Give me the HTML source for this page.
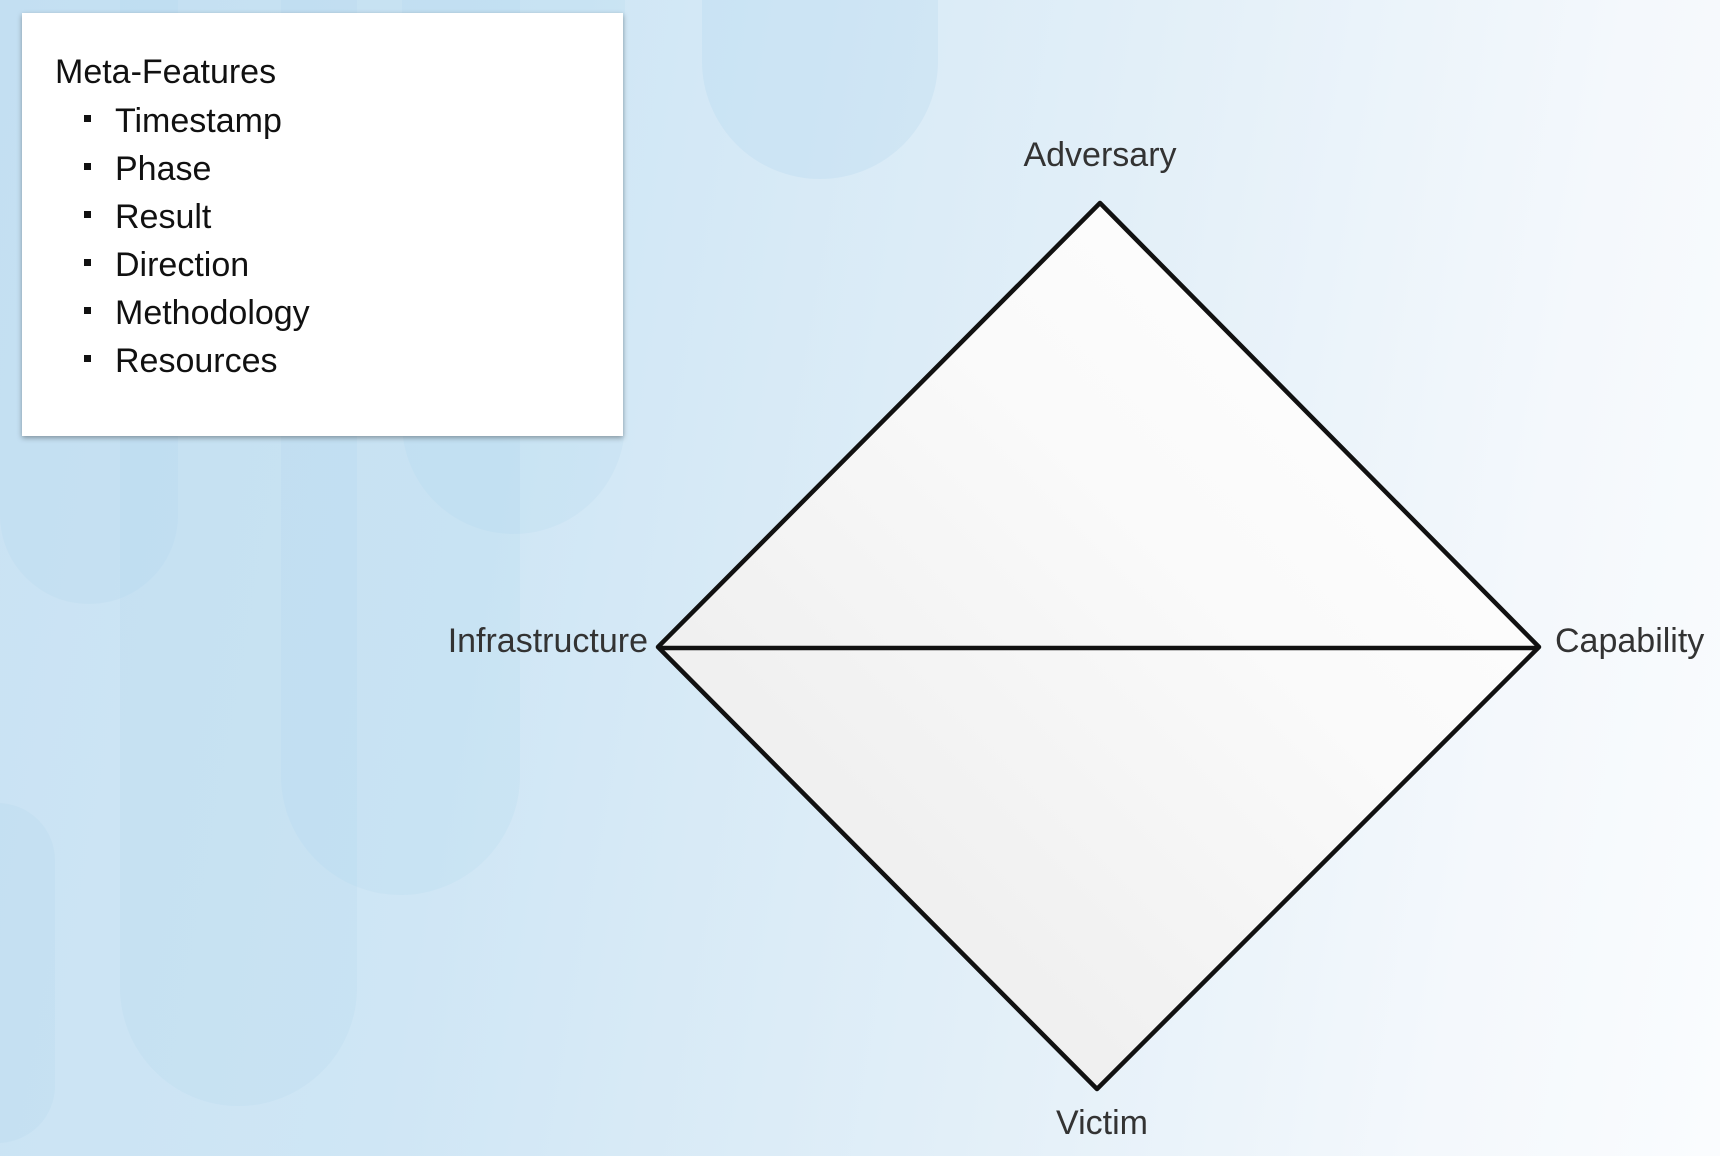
<!DOCTYPE html>
<html><head><meta charset="utf-8"><style>
html,body{margin:0;padding:0;background:#e4f0f8}
body{width:1720px;height:1156px;position:relative;overflow:hidden;font-family:"Liberation Sans",sans-serif}
.bg{position:absolute;left:0;top:0;width:1720px;height:1156px;
background:linear-gradient(100deg,#c9e2f3 0%,#cfe6f5 30%,#e2eff8 60%,#f4f8fc 85%,#fafcfe 100%);overflow:hidden}
.pill{position:absolute;border-radius:0 0 120px 120px;background:rgba(170,210,238,0.16)}
.box{position:absolute;left:22px;top:13px;width:601px;height:423px;background:#fff;box-shadow:0 2px 5px rgba(0,0,0,0.35)}
.t{position:absolute;font-size:34px;color:#111;white-space:nowrap}
.lbl{position:absolute;font-size:34px;color:#333;white-space:nowrap}
.b{position:absolute;width:7px;height:7px;background:#111;left:84px}
</style></head><body>
<div class="bg">
<div class="pill" style="left:0;top:0;width:178px;height:604px"></div>
<div class="pill" style="left:120px;top:0;width:237px;height:1106px"></div>
<div class="pill" style="left:281px;top:0;width:239px;height:895px"></div>
<div class="pill" style="left:402px;top:0;width:223px;height:534px"></div>
<div class="pill" style="left:702px;top:0;width:236px;height:179px;background:rgba(170,210,238,0.22)"></div>
<div style="position:absolute;left:-60px;top:803px;width:115px;height:340px;border-radius:60px;background:rgba(170,210,238,0.16)"></div>
</div>
<div class="box">
<div class="t" style="left:33px;top:40px">Meta-Features</div>
</div>
<div class="b" style="top:115px"></div><div class="t" style="left:115px;top:102px">Timestamp</div>
<div class="b" style="top:163px"></div><div class="t" style="left:115px;top:150px">Phase</div>
<div class="b" style="top:211px"></div><div class="t" style="left:115px;top:198px">Result</div>
<div class="b" style="top:259px"></div><div class="t" style="left:115px;top:246px">Direction</div>
<div class="b" style="top:307px"></div><div class="t" style="left:115px;top:294px">Methodology</div>
<div class="b" style="top:355px"></div><div class="t" style="left:115px;top:342px">Resources</div>
<svg style="position:absolute;left:0;top:0" width="1720" height="1156">
<defs><linearGradient id="g" x1="0" y1="1" x2="1" y2="0">
<stop offset="0" stop-color="#e8e8e8"/><stop offset="0.6" stop-color="#fafafa"/><stop offset="1" stop-color="#ffffff"/></linearGradient></defs>
<polygon points="1100,203 1539,647 1097,1089 658,647" fill="url(#g)" stroke="#111" stroke-width="4.5" stroke-linejoin="round"/>
<line x1="658" y1="648" x2="1539" y2="648" stroke="#111" stroke-width="4.5"/>
</svg>
<div class="lbl" style="left:1100px;top:136px;transform:translateX(-50%)">Adversary</div>
<div class="lbl" style="right:1072px;top:622px">Infrastructure</div>
<div class="lbl" style="left:1555px;top:622px">Capability</div>
<div class="lbl" style="left:1102px;top:1104px;transform:translateX(-50%)">Victim</div>
</body></html>
